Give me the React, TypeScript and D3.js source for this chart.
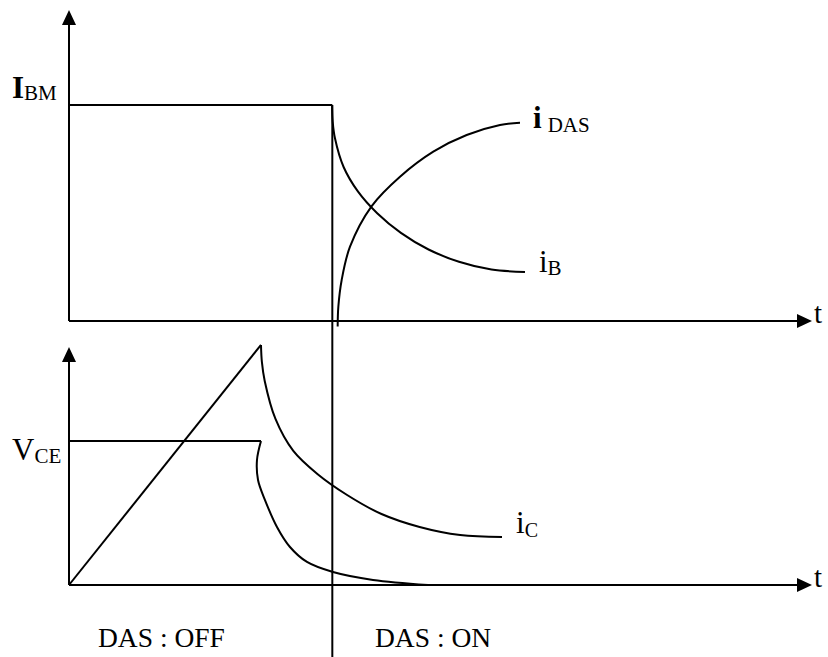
import React from 'react';
import * as d3 from 'd3';

const W = 828;
const H = 657;

// time axis (arbitrary units)
const T_DOMAIN = [0, 10];
const T_SWITCH = 3.544; // DAS turns on
const T_FALL = 2.584; // end of V_CE plateau / i_c peak

// top panel (base currents), normalised to I_BM
const I_BM = 1;
const TOP_AXIS_MAX = 1.44;
const iB_t = [3.54, 3.549, 3.579, 3.696, 3.888, 4.148, 4.467, 4.839, 5.249, 5.686, 6.137];
const iB_v = [1.0, 0.923, 0.847, 0.713, 0.6, 0.499, 0.408, 0.331, 0.274, 0.238, 0.227];
const iDAS_t = [3.616, 3.625, 3.67, 3.782, 4.074, 4.455, 4.903, 5.352, 5.801, 6.07];
const iDAS_v = [-0.026, 0.066, 0.19, 0.344, 0.532, 0.668, 0.784, 0.861, 0.907, 0.918];

// bottom panel, normalised to V_CE level
const V_CE = 1;
const BOT_AXIS_MAX = 1.653;
const ramp_t = [0, 2.584];
const ramp_v = [0, 1.667];
const ic_t = [2.584, 2.596, 2.634, 2.779, 3.019, 3.343, 3.743, 4.206, 4.719, 5.265, 5.828];
const ic_v = [1.667, 1.549, 1.417, 1.153, 0.931, 0.771, 0.625, 0.493, 0.403, 0.347, 0.333];
const vce_t = [2.584, 2.53, 2.544, 2.638, 2.799, 2.974, 3.203, 3.553, 4.092, 4.832];
const vce_v = [1.0, 0.868, 0.729, 0.59, 0.403, 0.264, 0.16, 0.09, 0.035, 0.0];

const LABEL_OFF = 'DAS : OFF';
const LABEL_ON = 'DAS : ON';

const FONT = '"Liberation Serif", "Times New Roman", serif';

export default function App() {
  const x = d3.scaleLinear().domain(T_DOMAIN).range([69, 812]);
  const yTop = d3.scaleLinear().domain([0, 1]).range([321, 105]);
  const yBot = d3.scaleLinear().domain([0, 1]).range([585, 441]);

  const zip = (ts: number[], vs: number[]) => ts.map((t, i) => [t, vs[i]] as [number, number]);

  const lineTop = d3
    .line<[number, number]>()
    .x((d) => x(d[0]))
    .y((d) => yTop(d[1]))
    .curve(d3.curveCatmullRom.alpha(0.5));
  const lineBot = d3
    .line<[number, number]>()
    .x((d) => x(d[0]))
    .y((d) => yBot(d[1]))
    .curve(d3.curveCatmullRom.alpha(0.5));
  const straightTop = d3
    .line<[number, number]>()
    .x((d) => x(d[0]))
    .y((d) => yTop(d[1]));
  const straightBot = d3
    .line<[number, number]>()
    .x((d) => x(d[0]))
    .y((d) => yBot(d[1]));

  const x0 = x(T_DOMAIN[0]);
  const x1 = x(T_DOMAIN[1]);
  const ah = 15; // arrow length
  const aw = 7; // arrow half-width

  const topAxisY = yTop(0);
  const topTip = yTop(TOP_AXIS_MAX);
  const botAxisY = yBot(0);
  const botTip = yBot(BOT_AXIS_MAX);
  const xs = x(T_SWITCH);

  const stroke = { stroke: '#000', strokeWidth: 2, fill: 'none' };

  const iBEnd = [x(iB_t[iB_t.length - 1]), yTop(iB_v[iB_v.length - 1])];
  const iDEnd = [x(iDAS_t[iDAS_t.length - 1]), yTop(iDAS_v[iDAS_v.length - 1])];
  const icEnd = [x(ic_t[ic_t.length - 1]), yBot(ic_v[ic_v.length - 1])];

  return (
    <svg
      width={W}
      height={H}
      style={{ position: 'absolute', left: 0, top: 0, background: '#fff', display: 'block' }}
      fontFamily={FONT}
    >
      <rect x={0} y={0} width={W} height={H} fill="#fff" />
      {/* top axes */}
      <line x1={x0} y1={topAxisY} x2={x0} y2={topTip + ah} {...stroke} />
      <polygon points={`${x0},${topTip} ${x0 - aw},${topTip + ah} ${x0 + aw},${topTip + ah}`} fill="#000" />
      <line x1={x0} y1={topAxisY} x2={x1 - ah} y2={topAxisY} {...stroke} />
      <polygon points={`${x1},${topAxisY} ${x1 - ah},${topAxisY - aw} ${x1 - ah},${topAxisY + aw}`} fill="#000" />
      {/* bottom axes */}
      <line x1={x0} y1={botAxisY} x2={x0} y2={botTip + ah} {...stroke} />
      <polygon points={`${x0},${botTip} ${x0 - aw},${botTip + ah} ${x0 + aw},${botTip + ah}`} fill="#000" />
      <line x1={x0} y1={botAxisY} x2={x1 - ah} y2={botAxisY} {...stroke} />
      <polygon points={`${x1},${botAxisY} ${x1 - ah},${botAxisY - aw} ${x1 - ah},${botAxisY + aw}`} fill="#000" />

      {/* I_BM plateau and DAS switch line */}
      <path d={straightTop([[0, I_BM], [T_SWITCH, I_BM]]) || ''} {...stroke} />
      <line x1={xs} y1={yTop(I_BM)} x2={xs} y2={H} {...stroke} />

      {/* top curves */}
      <path d={lineTop(zip(iB_t, iB_v)) || ''} {...stroke} />
      <path d={lineTop(zip(iDAS_t, iDAS_v)) || ''} {...stroke} />

      {/* bottom curves */}
      <path d={straightBot(zip(ramp_t, ramp_v)) || ''} {...stroke} />
      <path d={lineBot(zip(ic_t, ic_v)) || ''} {...stroke} />
      <path d={straightBot([[0, V_CE], [T_FALL, V_CE]]) || ''} {...stroke} />
      <path d={lineBot(zip(vce_t, vce_v)) || ''} {...stroke} />

      {/* labels */}
      <text x={12} y={yTop(I_BM) - 7} fill="#000">
        <tspan fontWeight="bold" fontSize={31}>I</tspan>
        <tspan fontSize={21} dy={2}>BM</tspan>
      </text>
      <text x={12} y={yBot(V_CE) + 19} fill="#000">
        <tspan fontSize={31}>V</tspan>
        <tspan fontSize={21} dy={3}>CE</tspan>
      </text>
      <text x={iDEnd[0] + 13} y={iDEnd[1] + 5} fill="#000">
        <tspan fontWeight="bold" fontSize={31}>i</tspan>
        <tspan fontSize={21} dx={6} dy={4}>DAS</tspan>
      </text>
      <text x={iBEnd[0] + 14} y={iBEnd[1]} fill="#000">
        <tspan fontSize={31}>i</tspan>
        <tspan fontSize={21} dy={3}>B</tspan>
      </text>
      <text x={icEnd[0] + 14} y={icEnd[1] - 4} fill="#000">
        <tspan fontSize={31}>i</tspan>
        <tspan fontSize={20} dy={4}>C</tspan>
      </text>
      <text x={x1 + 2} y={topAxisY + 2} fontSize={29} fill="#000">t</text>
      <text x={x1 + 2} y={botAxisY + 2} fontSize={29} fill="#000">t</text>

      <text x={98} y={647} fontSize={27.5} fill="#000">{LABEL_OFF}</text>
      <text x={375} y={647} fontSize={27.5} fill="#000">{LABEL_ON}</text>
    </svg>
  );
}
